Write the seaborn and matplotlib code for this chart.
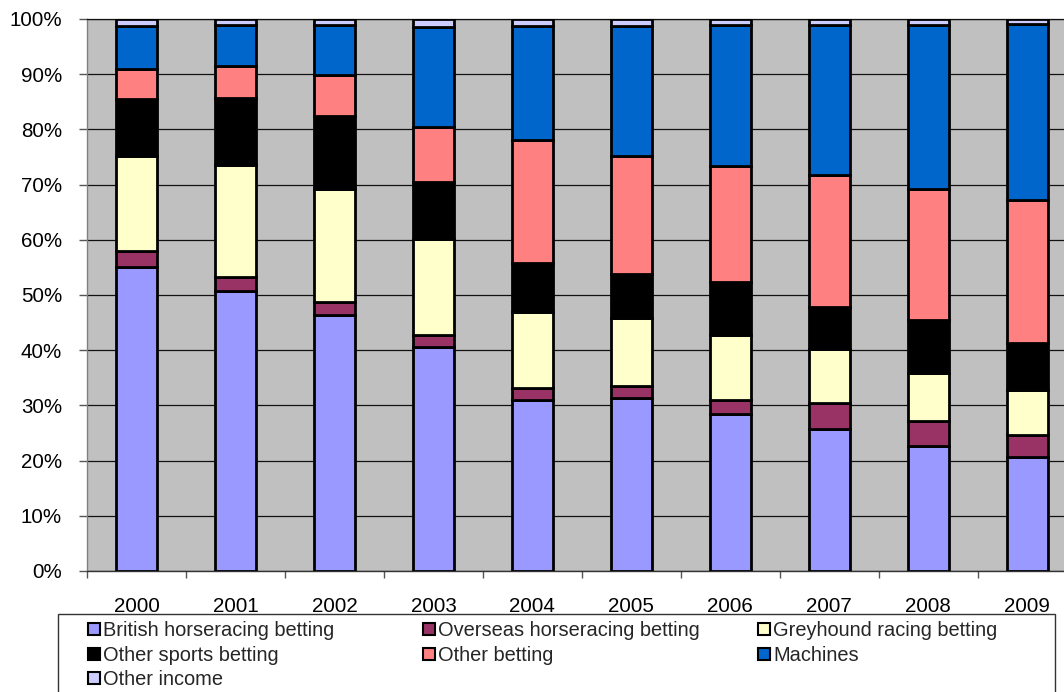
import numpy as np
import pandas as pd
import matplotlib
matplotlib.use("Agg")
import matplotlib.pyplot as plt
from matplotlib.patches import Patch, Rectangle
from matplotlib.ticker import PercentFormatter
import seaborn as sns

# Share of gross gambling yield by source, per year (%)
years = ["2000", "2001", "2002", "2003", "2004", "2005", "2006", "2007", "2008", "2009"]
british_horseracing = [55.1, 50.7, 46.3, 40.5, 31.0, 31.3, 28.4, 25.8, 22.7, 20.6]
overseas_horseracing = [2.9, 2.6, 2.4, 2.2, 2.1, 2.3, 2.6, 4.6, 4.5, 4.0]
greyhound_racing = [17.2, 20.2, 20.5, 17.4, 13.8, 12.3, 11.8, 9.9, 8.6, 8.2]
other_sports = [10.3, 12.2, 13.2, 10.4, 8.9, 7.9, 9.6, 7.5, 9.6, 8.5]
other_betting = [5.4, 5.8, 7.5, 10.0, 22.3, 21.3, 21.0, 23.9, 23.8, 25.9]
machines = [7.8, 7.5, 9.0, 18.1, 20.6, 23.6, 25.5, 27.2, 29.8, 31.9]
other_income = [1.3, 1.0, 1.1, 1.4, 1.3, 1.3, 1.1, 1.1, 1.0, 0.9]

series_names = [
    "British horseracing betting",
    "Overseas horseracing betting",
    "Greyhound racing betting",
    "Other sports betting",
    "Other betting",
    "Machines",
    "Other income",
]
series_values = [british_horseracing, overseas_horseracing, greyhound_racing,
                 other_sports, other_betting, machines, other_income]
series_colors = ["#9999FF", "#993366", "#FFFFCC", "#000000", "#FF8080", "#0066CC", "#CCCCFF"]

sns.set_theme(style="white")
plt.rcParams["font.family"] = ["Liberation Sans", "DejaVu Sans"]
FS = 14.8
LEG_FS = 14.4

W, H = 1064, 692
fig = plt.figure(figsize=(W / 100, H / 100), dpi=100)
fig.patch.set_facecolor("white")
ax = fig.add_axes([87 / W, 121 / H, 989.7 / W, 552 / H])
ax.set_facecolor("#C0C0C0")

# Stacked bars, one seaborn call per component
base = np.zeros(len(years))
for name, vals, col in zip(series_names, series_values, series_colors):
    df = pd.DataFrame({"year": years, "share": vals})
    sns.barplot(data=df, x="year", y="share", order=years, color=col, saturation=1,
                width=0.414, edgecolor="black", linewidth=2.0, bottom=base.copy(),
                errorbar=None, ax=ax, zorder=3)
    base += np.asarray(vals, dtype=float)

ax.set_xlim(-0.5, len(years) - 0.5)
ax.set_ylim(0, 100)
ax.set_xlabel("")
ax.set_ylabel("")

ax.set_yticks(np.arange(0, 101, 10))
ax.yaxis.set_major_formatter(PercentFormatter(decimals=0))
ax.set_xticks(np.arange(-0.5, len(years), 1.0))
ax.set_xticklabels([])
ax.set_xticks(np.arange(len(years)), minor=True)
ax.set_xticklabels(years, minor=True)

ax.tick_params(axis="x", which="major", bottom=True, length=5, width=1, color="#555555",
               direction="out")
ax.tick_params(axis="x", which="minor", bottom=True, length=0, pad=19, labelsize=FS,
               labelcolor="black")
ax.tick_params(axis="y", left=True, length=6, width=1, color="#555555", direction="out",
               pad=12, labelsize=FS, labelcolor="black")

ax.yaxis.grid(True, color="#111111", linewidth=0.9)
ax.xaxis.grid(False)
ax.set_axisbelow(True)

ax.spines["left"].set_color("#808080")
ax.spines["left"].set_linewidth(1.0)
ax.spines["bottom"].set_color("#333333")
ax.spines["bottom"].set_linewidth(1.0)
ax.spines["top"].set_color("#111111")
ax.spines["top"].set_linewidth(0.9)
ax.spines["right"].set_visible(False)

# Legend frame
frame = Rectangle((58 / W, -0.05), (1055 - 58) / W, (692 - 614) / H + 0.05,
                  transform=fig.transFigure, facecolor="none", edgecolor="#333333",
                  linewidth=1.0, zorder=0)
fig.add_artist(frame)

# Legend entries laid out in three equal-width columns
handles = {n: Patch(facecolor=c, edgecolor="black", linewidth=1.5)
           for n, c in zip(series_names, series_colors)}
columns = [
    (88, ["British horseracing betting", "Other sports betting", "Other income"]),
    (423, ["Overseas horseracing betting", "Other betting"]),
    (758, ["Greyhound racing betting", "Machines"]),
]
for x0, names in columns:
    fig.legend([handles[n] for n in names], names, loc="upper left",
               bbox_to_anchor=(x0 / W, (H - 621) / H), bbox_transform=fig.transFigure,
               frameon=False, fontsize=LEG_FS, borderpad=0, borderaxespad=0,
               handlelength=0.6, handleheight=0.55, handletextpad=0.15,
               labelspacing=0.28)

fig.savefig("out.png", dpi=100, facecolor="white")
